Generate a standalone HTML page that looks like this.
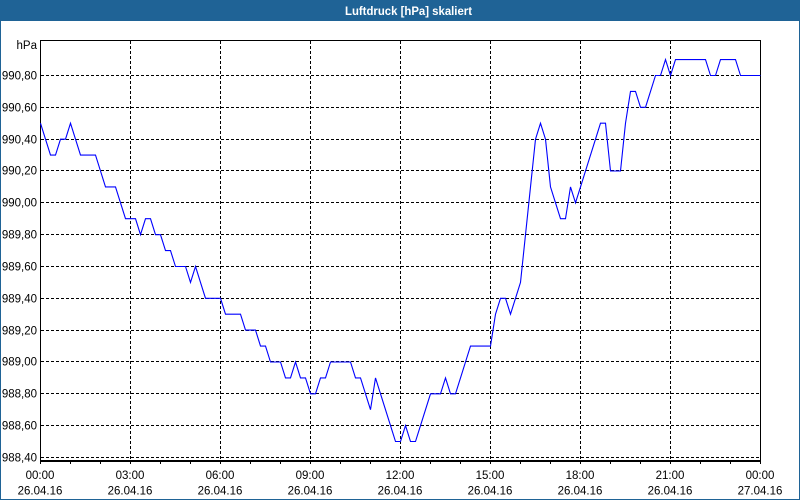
<!DOCTYPE html>
<html>
<head>
<meta charset="utf-8">
<style>
html,body{margin:0;padding:0;background:#1f6396;}
body{width:800px;height:500px;overflow:hidden;}
svg{display:block;}
text{font-family:"Liberation Sans",Arial,sans-serif;}
</style>
</head>
<body>
<svg width="800" height="500" viewBox="0 0 800 500" xmlns="http://www.w3.org/2000/svg">
  <rect x="0" y="0" width="800" height="500" fill="#1f6396"/>
  <rect x="1" y="21" width="798" height="478" fill="#ffffff"/>
  <text x="345" y="15" fill="#ffffff" font-size="11.5" font-weight="bold" textLength="127" lengthAdjust="spacingAndGlyphs">Luftdruck [hPa] skaliert</text>

  <!-- horizontal dashed grid -->
  <g stroke="#000" stroke-width="1" stroke-dasharray="3,2" fill="none" shape-rendering="crispEdges">
    <line x1="41" y1="75.5" x2="760" y2="75.5"/>
    <line x1="41" y1="107.5" x2="760" y2="107.5"/>
    <line x1="41" y1="139.5" x2="760" y2="139.5"/>
    <line x1="41" y1="170.5" x2="760" y2="170.5"/>
    <line x1="41" y1="202.5" x2="760" y2="202.5"/>
    <line x1="41" y1="234.5" x2="760" y2="234.5"/>
    <line x1="41" y1="266.5" x2="760" y2="266.5"/>
    <line x1="41" y1="298.5" x2="760" y2="298.5"/>
    <line x1="41" y1="330.5" x2="760" y2="330.5"/>
    <line x1="41" y1="361.5" x2="760" y2="361.5"/>
    <line x1="41" y1="393.5" x2="760" y2="393.5"/>
    <line x1="41" y1="425.5" x2="760" y2="425.5"/>
    <line x1="41" y1="457.5" x2="760" y2="457.5"/>
    <!-- vertical dashed grid -->
    <line x1="130.5" y1="41" x2="130.5" y2="460"/>
    <line x1="220.5" y1="41" x2="220.5" y2="460"/>
    <line x1="310.5" y1="41" x2="310.5" y2="460"/>
    <line x1="400.5" y1="41" x2="400.5" y2="460"/>
    <line x1="490.5" y1="41" x2="490.5" y2="460"/>
    <line x1="580.5" y1="41" x2="580.5" y2="460"/>
    <line x1="670.5" y1="41" x2="670.5" y2="460"/>
  </g>

  <!-- plot frame -->
  <g stroke="#000" fill="none" shape-rendering="crispEdges">
    <line x1="40.5" y1="40" x2="40.5" y2="464" stroke-width="1"/>
    <line x1="40" y1="40.5" x2="761" y2="40.5" stroke-width="1"/>
    <line x1="760.5" y1="40" x2="760.5" y2="464" stroke-width="1"/>
    <line x1="40" y1="461" x2="761" y2="461" stroke-width="2"/>
  </g>

  <!-- hourly ticks -->
  <g stroke="#000" stroke-width="1" shape-rendering="crispEdges">
    <line x1="70.5" y1="461" x2="70.5" y2="464"/>
    <line x1="100.5" y1="461" x2="100.5" y2="464"/>
    <line x1="130.5" y1="461" x2="130.5" y2="464"/>
    <line x1="160.5" y1="461" x2="160.5" y2="464"/>
    <line x1="190.5" y1="461" x2="190.5" y2="464"/>
    <line x1="220.5" y1="461" x2="220.5" y2="464"/>
    <line x1="250.5" y1="461" x2="250.5" y2="464"/>
    <line x1="280.5" y1="461" x2="280.5" y2="464"/>
    <line x1="310.5" y1="461" x2="310.5" y2="464"/>
    <line x1="340.5" y1="461" x2="340.5" y2="464"/>
    <line x1="370.5" y1="461" x2="370.5" y2="464"/>
    <line x1="400.5" y1="461" x2="400.5" y2="464"/>
    <line x1="430.5" y1="461" x2="430.5" y2="464"/>
    <line x1="460.5" y1="461" x2="460.5" y2="464"/>
    <line x1="490.5" y1="461" x2="490.5" y2="464"/>
    <line x1="520.5" y1="461" x2="520.5" y2="464"/>
    <line x1="550.5" y1="461" x2="550.5" y2="464"/>
    <line x1="580.5" y1="461" x2="580.5" y2="464"/>
    <line x1="610.5" y1="461" x2="610.5" y2="464"/>
    <line x1="640.5" y1="461" x2="640.5" y2="464"/>
    <line x1="670.5" y1="461" x2="670.5" y2="464"/>
    <line x1="700.5" y1="461" x2="700.5" y2="464"/>
    <line x1="730.5" y1="461" x2="730.5" y2="464"/>
  </g>

  <!-- y labels -->
  <g font-size="11.5" fill="#000" text-anchor="end">
    <text x="37" y="49">hPa</text>
    <text x="37" y="79.5">990,80</text>
    <text x="37" y="111.5">990,60</text>
    <text x="37" y="143.5">990,40</text>
    <text x="37" y="174.5">990,20</text>
    <text x="37" y="206.5">990,00</text>
    <text x="37" y="238.5">989,80</text>
    <text x="37" y="270.5">989,60</text>
    <text x="37" y="302.5">989,40</text>
    <text x="37" y="334.5">989,20</text>
    <text x="37" y="365.5">989,00</text>
    <text x="37" y="397.5">988,80</text>
    <text x="37" y="429.5">988,60</text>
    <text x="37" y="461.5">988,40</text>
  </g>

  <!-- x labels -->
  <g font-size="11.5" fill="#000" text-anchor="middle">
    <text x="40" y="479">00:00</text><text x="40" y="494.5">26.04.16</text>
    <text x="130" y="479">03:00</text><text x="130" y="494.5">26.04.16</text>
    <text x="220" y="479">06:00</text><text x="220" y="494.5">26.04.16</text>
    <text x="310" y="479">09:00</text><text x="310" y="494.5">26.04.16</text>
    <text x="400" y="479">12:00</text><text x="400" y="494.5">26.04.16</text>
    <text x="490" y="479">15:00</text><text x="490" y="494.5">26.04.16</text>
    <text x="580" y="479">18:00</text><text x="580" y="494.5">26.04.16</text>
    <text x="670" y="479">21:00</text><text x="670" y="494.5">26.04.16</text>
    <text x="760" y="479">00:00</text><text x="760" y="494.5">27.04.16</text>
  </g>

  <!-- data series -->
  <polyline fill="none" stroke="#0000ff" stroke-width="1.1" stroke-linejoin="miter"
    points="40.5,123.2 45.5,139.2 50.5,155.1 55.5,155.1 60.5,139.2 65.5,139.2 70.5,123.2 75.5,139.2 80.5,155.1 85.5,155.1 90.5,155.1 95.5,155.1 100.5,171.0 105.5,186.9 110.5,186.9 115.5,186.9 120.5,202.8 125.5,218.7 130.5,218.7 135.5,218.7 140.5,234.7 145.5,218.7 150.5,218.7 155.5,234.7 160.5,234.7 165.5,250.6 170.5,250.6 175.5,266.5 180.5,266.5 185.5,266.5 190.5,282.4 195.5,266.5 200.5,282.4 205.5,298.3 210.5,298.3 215.5,298.3 220.5,298.3 225.5,314.2 230.5,314.2 235.5,314.2 240.5,314.2 245.5,330.1 250.5,330.1 255.5,330.1 260.5,346.1 265.5,346.1 270.5,362.0 275.5,362.0 280.5,362.0 285.5,377.9 290.5,377.9 295.5,362.0 300.5,377.9 305.5,377.9 310.5,393.8 315.5,393.8 320.5,377.9 325.5,377.9 330.5,362.0 335.5,362.0 340.5,362.0 345.5,362.0 350.5,362.0 355.5,377.9 360.5,377.9 365.5,393.8 370.5,409.7 375.5,377.9 380.5,393.8 385.5,409.7 390.5,425.6 395.5,441.5 400.5,441.5 405.5,425.6 410.5,441.5 415.5,441.5 420.5,425.6 425.5,409.7 430.5,393.8 435.5,393.8 440.5,393.8 445.5,377.9 450.5,393.8 455.5,393.8 460.5,377.9 465.5,362.0 470.5,346.1 475.5,346.1 480.5,346.1 485.5,346.1 490.5,346.1 495.5,314.2 500.5,298.3 505.5,298.3 510.5,314.2 515.5,298.3 520.5,282.4 525.5,234.7 530.5,186.9 535.5,139.2 540.5,123.2 545.5,139.2 550.5,186.9 555.5,202.8 560.5,218.7 565.5,218.7 570.5,186.9 575.5,202.8 580.5,186.9 585.5,171.0 590.5,155.1 595.5,139.2 600.5,123.2 605.5,123.2 610.5,171.0 615.5,171.0 620.5,171.0 625.5,123.2 630.5,91.4 635.5,91.4 640.5,107.3 645.5,107.3 650.5,91.4 655.5,75.5 660.5,75.5 665.5,59.6 670.5,75.5 675.5,59.6 680.5,59.6 685.5,59.6 690.5,59.6 695.5,59.6 700.5,59.6 705.5,59.6 710.5,75.5 715.5,75.5 720.5,59.6 725.5,59.6 730.5,59.6 735.5,59.6 740.5,75.5 745.5,75.5 750.5,75.5 755.5,75.5 760.5,75.5"/>
</svg>
</body>
</html>
